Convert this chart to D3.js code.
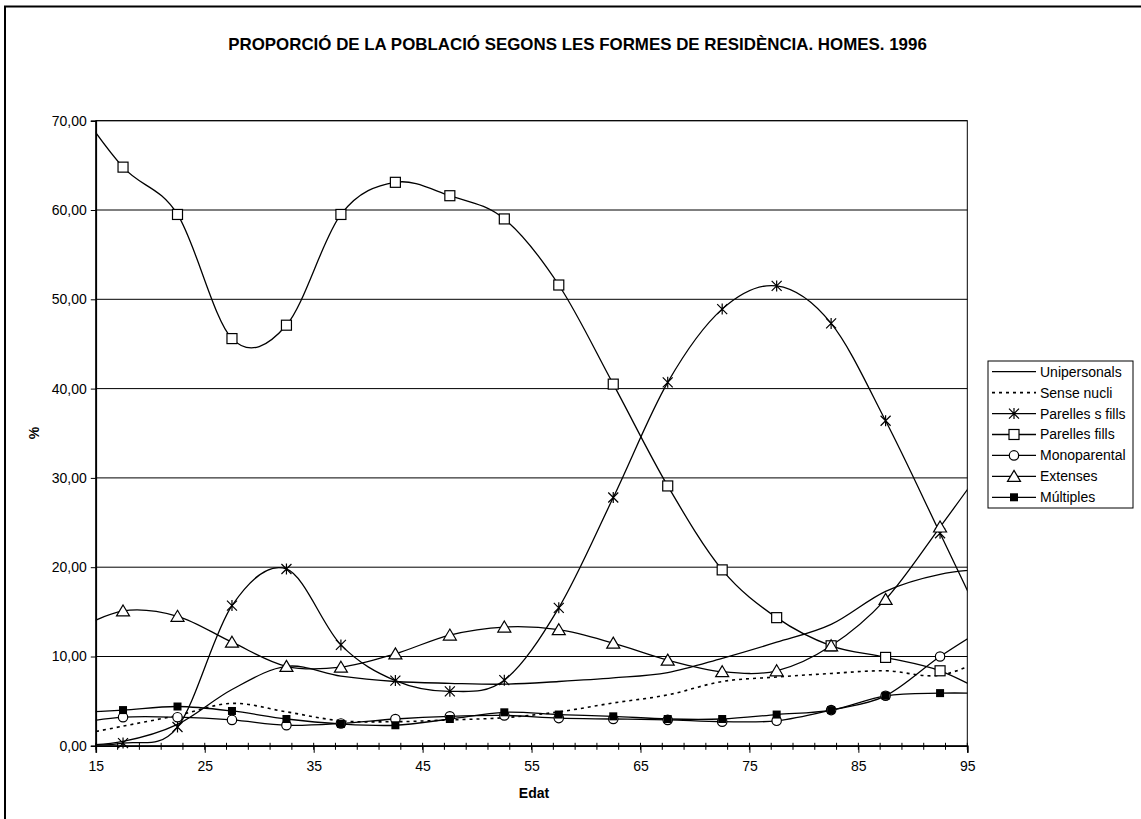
<!DOCTYPE html>
<html><head><meta charset="utf-8">
<script src="https://cdn.jsdelivr.net/npm/d3@7"></script>
<style>body{margin:0;background:#fff}svg text{font-family:"Liberation Sans",Arial,sans-serif;fill:#000}</style>
</head><body>
<svg id="c" width="1141" height="819"></svg>
<script>
const title = "PROPORCIÓ DE LA POBLACIÓ SEGONS LES FORMES DE RESIDÈNCIA. HOMES. 1996";
const ages = [12.5,17.5,22.5,27.5,32.5,37.5,42.5,47.5,52.5,57.5,62.5,67.5,72.5,77.5,82.5,87.5,92.5,97.5];
const xTicks = [15,25,35,45,55,65,75,85,95];
const yTicks = [0,10,20,30,40,50,60,70];
const seriesNames = ["Unipersonals","Sense nucli","Parelles s fills","Parelles fills","Monoparental","Extenses","Múltiples"];
const unipersonals = [0,0.5,2.4,6.3,8.9,7.8,7.2,7.0,6.9,7.2,7.6,8.2,9.8,11.6,13.6,17.3,19.2,19.85];
const senseNucli = [1.0,2.2,3.4,4.75,3.8,2.8,2.7,2.9,3.15,3.8,4.8,5.7,7.2,7.7,8.1,8.4,7.9,10.2];
const parellesSFills = [0.1,0.3,2.1,15.7,19.8,11.3,7.3,6.1,7.35,15.45,27.8,40.7,48.9,51.5,47.3,36.4,23.8,11.0];
const parellesFills = [73,64.8,59.5,45.6,47.1,59.5,63.1,61.6,59.0,51.6,40.5,29.1,19.7,14.35,11.2,9.9,8.4,5.4];
const monoparental = [2.4,3.2,3.2,2.9,2.3,2.5,3.0,3.3,3.4,3.1,3.0,2.9,2.7,2.8,4.0,5.6,10.0,13.85];
const extenses = [12.6,15.1,14.5,11.6,8.9,8.8,10.3,12.4,13.3,13.0,11.5,9.6,8.3,8.4,11.2,16.4,24.5,32.9];
const multiples = [3.65,4.0,4.4,3.9,3.0,2.45,2.3,3.0,3.75,3.5,3.3,3.0,3.0,3.5,4.0,5.6,5.9,5.86];

const markers = ["none","none","star","square","circle","triangle","fsquare"];
const seriesValues = [unipersonals,senseNucli,parellesSFills,parellesFills,monoparental,extenses,multiples];

const svg = d3.select("#c");
const L = 95.8, R = 967.3, T = 120.7, B = 745.8;
const x = d3.scaleLinear().domain([15,95]).range([L,R]);
const y = d3.scaleLinear().domain([0,70]).range([B,T]);

// outer chart border
svg.append("rect").attr("x",5).attr("y",6.5).attr("width",1200).attr("height",900)
  .attr("fill","none").attr("stroke","#000").attr("stroke-width",2);

svg.append("text").attr("x",577.5).attr("y",50).attr("text-anchor","middle")
  .attr("font-size","16.9px").attr("font-weight","bold").text(title);

// gridlines
svg.append("g").selectAll("line").data(yTicks.filter(d=>d>0)).join("line")
  .attr("x1",L).attr("x2",R).attr("y1",d=>y(d)).attr("y2",d=>y(d))
  .attr("stroke","#000").attr("stroke-width",1);
svg.append("rect").attr("x",L).attr("y",T).attr("width",R-L).attr("height",B-T)
  .attr("fill","none").attr("stroke","#000").attr("stroke-width",1);

// y axis
const yAxis = d3.axisLeft(y).tickValues(yTicks).tickSize(5).tickPadding(4)
  .tickFormat(d=>d3.format(".2f")(d).replace(".",","));
const gy = svg.append("g").attr("transform",`translate(${L},0)`).call(yAxis);
gy.select(".domain").attr("stroke-width",1.6);
gy.selectAll("text").attr("font-size","14px").attr("font-family","Liberation Sans, Arial, sans-serif");

// x axis minor ticks
const minor = d3.range(15,95.01,2);
svg.append("g").selectAll("line").data(minor).join("line")
  .attr("x1",d=>x(d)).attr("x2",d=>x(d)).attr("y1",B-3).attr("y2",B+4)
  .attr("stroke","#000").attr("stroke-width",1);
const xAxis = d3.axisBottom(x).tickValues(xTicks).tickSize(7).tickPadding(8).tickFormat(d3.format("d"));
const gx = svg.append("g").attr("transform",`translate(0,${B})`).call(xAxis);
gx.select(".domain").attr("stroke-width",1.6);
gx.selectAll("text").attr("font-size","14px").attr("font-family","Liberation Sans, Arial, sans-serif");

svg.append("text").attr("x",534).attr("y",798).attr("text-anchor","middle")
  .attr("font-size","14px").attr("font-weight","bold").text("Edat");
svg.append("text").attr("transform","translate(39,433) rotate(-90)").attr("text-anchor","middle")
  .attr("font-size","14px").attr("font-weight","bold").text("%");

// clip
svg.append("clipPath").attr("id","clip").append("rect")
  .attr("x",L).attr("y",T-1).attr("width",R-L).attr("height",B-T+1);

const line = d3.line().x(d=>x(d[0])).y(d=>y(d[1])).curve(d3.curveCatmullRom.alpha(0));
const gl = svg.append("g").attr("clip-path","url(#clip)");
seriesValues.forEach((vals,i)=>{
  const pts = ages.map((a,j)=>[a,vals[j]]);
  gl.append("path").datum(pts).attr("d",line).attr("fill","none")
    .attr("stroke","#000").attr("stroke-width",i===1?1.6:1.3)
    .attr("stroke-dasharray",i===1?"3,4":null);
});

function drawMarker(g,type,cx,cy){
  if(type==="square") g.append("rect").attr("x",cx-5).attr("y",cy-5).attr("width",10).attr("height",10)
      .attr("fill","#fff").attr("stroke","#000").attr("stroke-width",1.2);
  else if(type==="fsquare") g.append("rect").attr("x",cx-4).attr("y",cy-4).attr("width",8).attr("height",8)
      .attr("fill","#000");
  else if(type==="circle") g.append("circle").attr("cx",cx).attr("cy",cy).attr("r",4.7)
      .attr("fill","#fff").attr("stroke","#000").attr("stroke-width",1.2);
  else if(type==="triangle") g.append("path")
      .attr("d",`M${cx},${cy-6}L${cx+6.5},${cy+5}L${cx-6.5},${cy+5}Z`)
      .attr("fill","#fff").attr("stroke","#000").attr("stroke-width",1.2);
  else if(type==="star") g.append("path")
      .attr("d",`M${cx-5},${cy-5}L${cx+5},${cy+5}M${cx-5},${cy+5}L${cx+5},${cy-5}M${cx},${cy-5.5}L${cx},${cy+5.5}`)
      .attr("stroke","#000").attr("stroke-width",1.2).attr("fill","none");
}
const gm = svg.append("g");
seriesValues.forEach((vals,i)=>{
  if(markers[i]==="none") return;
  ages.forEach((a,j)=>{ if(a>=15 && a<=95) drawMarker(gm,markers[i],x(a),y(vals[j])); });
});

// legend
const lg = svg.append("g");
lg.append("rect").attr("x",988).attr("y",361).attr("width",145).attr("height",147)
  .attr("fill","#fff").attr("stroke","#000").attr("stroke-width",1);
seriesNames.forEach((n,i)=>{
  const cy = 371.7 + i*20.93;
  lg.append("line").attr("x1",992).attr("x2",1036).attr("y1",cy).attr("y2",cy)
    .attr("stroke","#000").attr("stroke-width",i===1?1.6:1.3).attr("stroke-dasharray",i===1?"3,4":null);
  if(markers[i]!=="none") drawMarker(lg,markers[i],1014,cy);
  lg.append("text").attr("x",1040).attr("y",cy+5).attr("font-size","14px").text(n);
});
</script>
</body></html>
